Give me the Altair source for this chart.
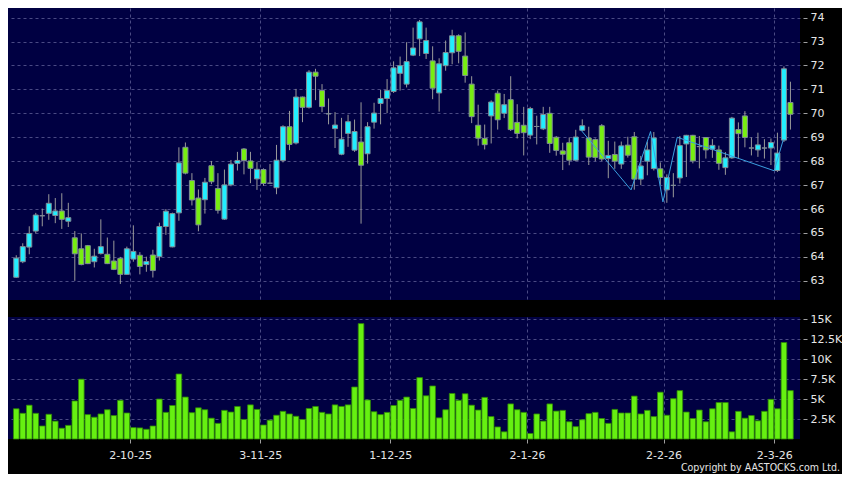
import altair as alt
import pandas as pd

# ---------------- data ----------------
opens = [63.15, 63.80, 64.41, 65.08, 65.72, 65.82, 65.73, 65.92, 65.49, 64.80,
         64.34, 64.47, 63.80, 64.14, 64.11, 63.83, 63.94, 63.27, 63.91, 64.07,
         63.68, 64.08, 64.01, 65.27, 64.42, 65.84, 68.58, 67.19, 66.46, 66.39,
         67.81, 66.86, 65.58, 67.01, 67.91, 68.51, 68.01, 67.26, 67.65, 67.08,
         66.89, 68.03, 69.44, 68.76, 70.68, 70.25, 71.72, 70.95, 69.98, 69.36,
         68.29, 69.16, 68.46, 68.80, 68.31, 69.63, 70.41, 70.62, 70.91, 71.67,
         71.22, 72.43, 73.11, 72.50, 72.19, 70.85, 71.99, 72.53, 73.24, 72.39,
         71.22, 69.50, 68.95, 69.89, 70.84, 70.00, 70.57, 69.62, 69.50, 69.09,
         69.45, 69.35, 70.00, 69.00, 68.43, 68.77, 68.04, 69.29, 68.97, 68.90,
         69.48, 68.11, 68.28, 67.88, 68.67, 69.02, 67.25, 68.00, 67.69, 67.68,
         66.80, 66.99, 67.30, 68.72, 69.08, 68.61, 68.99, 68.50, 68.47, 67.73,
         68.14, 69.32, 69.89, 68.55, 68.47, 68.55, 68.55, 67.61, 68.88, 70.45]
highs = [64.07, 64.57, 65.28, 65.84, 66.02, 66.62, 66.46, 66.66, 66.26, 65.08,
         64.98, 64.50, 64.34, 65.57, 64.81, 64.68, 64.00, 64.43, 65.32, 64.20,
         64.01, 64.30, 65.43, 66.00, 65.85, 68.58, 68.78, 67.50, 66.82, 67.30,
         68.01, 67.50, 67.65, 68.05, 68.39, 68.55, 68.39, 67.96, 67.70, 67.88,
         68.68, 69.50, 70.10, 71.02, 70.70, 71.80, 71.86, 71.22, 70.62, 70.05,
         69.81, 69.94, 69.74, 70.46, 69.63, 70.44, 70.98, 71.43, 72.17, 72.37,
         72.97, 73.58, 73.90, 73.58, 72.80, 72.30, 73.04, 73.49, 73.30, 73.38,
         71.55, 70.36, 69.53, 70.54, 70.95, 70.81, 71.55, 70.38, 70.27, 70.27,
         69.90, 70.27, 70.27, 69.05, 68.77, 68.99, 69.31, 69.75, 69.44, 68.95,
         69.55, 68.85, 68.82, 68.82, 69.02, 69.22, 68.22, 68.82, 69.22, 67.95,
         67.45, 67.50, 69.05, 69.10, 69.10, 69.05, 69.00, 68.92, 68.65, 68.38,
         69.85, 69.62, 70.09, 68.99, 69.19, 68.92, 68.95, 69.19, 71.96, 71.32]
lows = [63.12, 63.74, 64.11, 64.98, 65.28, 65.55, 65.41, 65.17, 65.25, 63.00,
        63.65, 63.70, 63.56, 64.10, 63.70, 63.45, 62.87, 63.25, 63.80, 63.27,
        63.38, 63.14, 63.85, 64.92, 64.40, 65.51, 67.45, 66.15, 65.07, 65.81,
        67.04, 65.81, 65.55, 66.95, 67.61, 67.45, 67.08, 66.80, 66.97, 67.05,
        66.62, 67.95, 68.46, 68.70, 69.63, 70.20, 70.55, 70.05, 69.54, 68.55,
        68.25, 68.60, 68.39, 65.39, 67.90, 69.36, 69.54, 70.01, 70.85, 70.95,
        71.08, 72.39, 72.39, 72.27, 70.59, 70.07, 71.78, 72.05, 72.09, 71.28,
        69.59, 68.65, 68.49, 68.74, 69.32, 69.80, 69.26, 68.95, 68.24, 68.92,
        68.70, 69.30, 68.35, 68.23, 67.63, 67.83, 68.00, 69.26, 67.84, 68.00,
        68.00, 67.29, 67.68, 67.68, 68.15, 66.81, 67.00, 67.41, 67.61, 67.01,
        66.26, 66.49, 67.07, 67.34, 67.91, 67.70, 68.11, 68.14, 67.64, 67.43,
        68.10, 68.11, 68.58, 68.24, 68.18, 68.11, 67.84, 67.55, 68.80, 69.32]
closes = [63.95, 64.43, 64.98, 65.75, 65.72, 66.24, 65.92, 65.57, 65.64, 64.13,
          63.68, 63.72, 64.03, 64.43, 63.72, 63.48, 63.27, 64.34, 64.23, 63.60,
          63.81, 63.43, 65.27, 65.91, 65.81, 67.93, 67.50, 66.38, 65.34, 67.12,
          67.14, 65.95, 67.01, 67.88, 68.03, 68.03, 67.70, 67.66, 67.07, 67.08,
          68.04, 69.44, 68.70, 70.68, 70.25, 71.72, 71.55, 70.28, 69.98, 69.51,
          68.92, 69.65, 69.24, 67.83, 69.44, 70.01, 70.62, 70.95, 71.90, 71.99,
          72.16, 72.73, 73.82, 73.04, 71.05, 72.07, 72.54, 73.24, 72.59, 71.58,
          69.86, 68.96, 68.69, 70.47, 69.73, 70.36, 69.32, 69.16, 69.19, 70.20,
          69.45, 69.95, 68.74, 68.45, 68.29, 68.04, 69.01, 69.48, 68.17, 68.16,
          68.09, 68.24, 68.00, 68.64, 68.25, 67.25, 67.80, 68.47, 68.97, 67.32,
          67.32, 66.99, 68.65, 69.08, 68.01, 68.61, 68.47, 68.66, 67.91, 68.14,
          69.80, 69.15, 68.99, 68.55, 68.68, 68.55, 68.78, 68.34, 71.86, 69.96]
volumes_k = [3.79, 3.22, 4.24, 3.22, 1.63, 3.10, 2.24, 1.35, 1.71, 4.77,
             7.50, 3.06, 2.73, 3.14, 3.67, 2.94, 4.85, 3.26, 1.43, 1.39,
             1.22, 1.63, 5.01, 3.34, 4.20, 8.15, 5.26, 3.30, 3.91, 3.67,
             2.61, 1.96, 3.59, 3.38, 4.08, 2.45, 4.28, 3.71, 1.75, 2.36,
             2.98, 3.47, 3.14, 2.85, 2.45, 3.83, 4.08, 3.34, 3.14, 4.28,
             4.08, 4.28, 6.52, 14.47, 4.89, 3.42, 3.06, 3.34, 4.20, 4.85,
             5.26, 3.83, 7.70, 5.42, 6.65, 2.65, 3.67, 5.71, 4.85, 5.67,
             4.24, 3.63, 5.22, 2.81, 1.51, 0.90, 4.40, 3.67, 3.34, 0.69,
             3.14, 2.24, 4.40, 3.50, 3.59, 2.16, 1.55, 2.41, 3.18, 3.34,
             2.57, 1.96, 3.71, 3.26, 3.26, 5.38, 3.14, 3.59, 2.81, 5.87,
             2.98, 5.06, 6.07, 3.38, 2.57, 3.63, 2.16, 3.79, 4.57, 4.57,
             0.90, 3.47, 2.61, 2.94, 2.28, 3.47, 4.97, 3.79, 12.10, 6.07]
tick_days = [18, 38, 58, 79, 100, 117]
tick_labels = ["2-10-25", "3-11-25", "1-12-25", "2-1-26", "2-2-26", "2-3-26"]
line_pos = [86.8, 94.5, 97.5, 99.4, 101.6, 116.5, 117.9]
line_val = [69.30, 66.80, 69.24, 66.30, 69.00, 67.60, 68.90]
price_ticks = list(range(63, 75))
vol_ticks = [2500, 5000, 7500, 10000, 12500, 15000]
copyright_text = "Copyright by AASTOCKS.com Ltd."

# ---------------- tables ----------------
n = len(opens)
df = pd.DataFrame({
    "i": list(range(n)), "open": opens, "high": highs, "low": lows,
    "close": closes, "vol": [v * 1000 for v in volumes_k],
})
df["dir"] = ["up" if c > o else ("down" if c < o else "flat") for o, c in zip(opens, closes)]
line_df = pd.DataFrame({"pos": line_pos, "val": line_val})
tick_pos = [d - 0.5 for d in tick_days]

W, H1, H2 = 792, 292, 122
FONT = "DejaVu Sans"
GRID = "#4a4a84"

xscale = alt.Scale(domain=[-0.5, 119.7], nice=False, zero=False)
yscale = alt.Scale(domain=[62.2, 74.4], nice=False, zero=False)
label_expr = " : ".join(f"datum.value == {p} ? '{t}'" for p, t in zip(tick_pos, tick_labels)) + " : ''"

x_price_axis = alt.Axis(values=tick_pos, labels=False, ticks=False, domain=False, grid=True, title=None)
y_price_axis = alt.Axis(orient="right", values=price_ticks, tickSize=4, offset=3, labelOverlap=False,
                        labelPadding=3, grid=True, domain=False, title=None)

base = alt.Chart(df)
wicks = base.mark_rule(color="#9a9a9a", strokeWidth=1).encode(
    x=alt.X("i:Q", scale=xscale, axis=x_price_axis),
    y=alt.Y("low:Q", scale=yscale, axis=y_price_axis), y2="high:Q")
bodies = base.mark_bar(size=5, stroke="#7f8c96", strokeWidth=1).encode(
    x=alt.X("i:Q", scale=xscale, axis=x_price_axis),
    y=alt.Y("open:Q", scale=yscale, axis=y_price_axis), y2="close:Q",
    fill=alt.Color("dir:N", scale=alt.Scale(domain=["up", "down", "flat"],
                                             range=["#22EEFF", "#77EE11", "#8a8a8a"]), legend=None))
blue_line = alt.Chart(line_df).mark_line(color="#3a9fe0", strokeWidth=1).encode(
    x=alt.X("pos:Q", scale=xscale, axis=x_price_axis),
    y=alt.Y("val:Q", scale=yscale, axis=y_price_axis), order="pos:Q")

price = alt.layer(wicks, bodies, blue_line).properties(width=W, height=H1)

vbars = base.mark_bar(size=5.6, fill="#66F011", stroke="#2f8a05", strokeWidth=0.8).encode(
    x=alt.X("i:Q", scale=xscale,
            axis=alt.Axis(values=tick_pos, labelExpr=label_expr, tickSize=4, labelPadding=6,
                          domain=False, grid=True, title=None, labelFontSize=11)),
    y=alt.Y("vol:Q", scale=alt.Scale(domain=[0, 15300], nice=False),
            axis=alt.Axis(orient="right", values=vol_ticks, labelExpr="datum.value / 1000 + 'K'",
                          labelOverlap=False, tickSize=4, offset=3, labelPadding=3, grid=True,
                          domain=False, title=None)))
copy = alt.Chart(pd.DataFrame({"t": [copyright_text]})).mark_text(
    align="right", baseline="middle", font="DejaVu Sans Condensed", fontSize=10.5,
    color="#e6e6e6").encode(
    text="t:N", x=alt.value(W + 40), y=alt.value(H2 + 29))

volume = alt.layer(vbars, copy).properties(width=W, height=H2)

chart = alt.vconcat(price, volume, spacing=13).properties(
    padding={"left": 0, "top": 0, "right": 0, "bottom": 0}
).configure(background="black").configure_view(fill="#000042", stroke=None).configure_axis(
    labelFont=FONT, labelFontSize=11, labelColor="#e6e6e6", tickColor="#a0a0a0",
    gridColor=GRID, gridDash=[3, 3], gridWidth=1, domain=False)

chart.save("out.html", embed_options={"renderer": "svg", "actions": False})
